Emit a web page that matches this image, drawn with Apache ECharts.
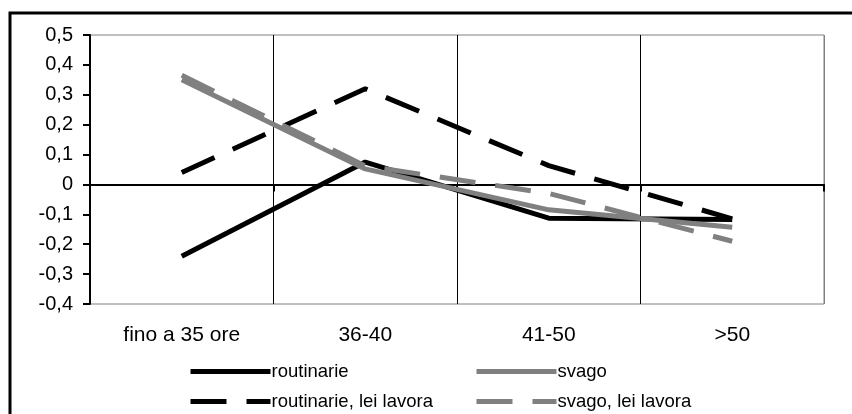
<!DOCTYPE html>
<html lang="it">
<head>
    <meta charset="UTF-8">
    <title>routinarie / svago</title>
    <script type="text/javascript" src="https://cdn.jsdelivr.net/npm/echarts@6/dist/echarts.min.js"></script>
    <style>
        html, body { margin: 0; padding: 0; background: #fff; }
    </style>
</head>
<body>
<div id="chart" style="width: 852px;height:414px;"></div>
<script>

    // categorie e valori
    var categories = ['fino a 35 ore', '36-40', '41-50', '>50'];
    var routinarie = [-0.24, 0.075, -0.113, -0.117];
    var svago = [0.35, 0.052, -0.085, -0.143];
    var routinarieLei = [0.04, 0.32, 0.063, -0.115];
    var svagoLei = [0.365, 0.062, -0.03, -0.19];

    var FONT = '"Liberation Sans", Arial, sans-serif';
    var DASH = [36, 20];

    function fmt(v) {
        if (Math.abs(v) < 1e-9) return '0';
        return v.toFixed(1).replace('.', ',');
    }

    function line(name, data, color, dashed) {
        return {
            name: name,
            type: 'line',
            data: data,
            symbol: 'none',
            silent: true,
            animation: false,
            lineStyle: {
                color: color,
                width: 5,
                type: dashed ? DASH : 'solid'
            },
            itemStyle: { color: color }
        };
    }

    // una legenda per voce, posizionata a mano
    function legend(name, left, top) {
        return {
            left: left,
            top: top,
            itemWidth: 80,
            itemHeight: 20,
            selectedMode: false,
            itemStyle: { opacity: 0 },
            lineStyle: { width: 5 },
            textStyle: { fontFamily: FONT, fontSize: 18.5, color: '#000', padding: [0, 0, 0, -4] },
            data: [name]
        };
    }

    var option = {
        animation: false,
        grid: {
            left: 90,
            right: 28,
            top: 35,
            bottom: 110,
            show: true,
            borderColor: '#808080',
            borderWidth: 1,
            backgroundColor: 'transparent'
        },
        graphic: [{
            type: 'rect',
            shape: { x: 10, y: 13, width: 900, height: 500 },
            style: { fill: null, stroke: '#000', lineWidth: 3 },
            silent: true
        }],
        legend: [
            legend('routinarie', 183, 357),
            legend('svago', 469, 357),
            legend('routinarie, lei lavora', 183, 387),
            legend('svago, lei lavora', 469, 387)
        ],
        xAxis: [{
            type: 'category',
            data: categories,
            position: 'bottom',
            axisLine: { show: false, onZero: false },
            axisTick: { show: false },
            axisLabel: { fontFamily: FONT, fontSize: 21, color: '#000', margin: 21 },
            splitLine: {
                show: true,
                lineStyle: { color: ['#000', '#000', '#000', '#000', '#808080'], width: 1 }
            }
        }, {
            type: 'category',
            data: categories,
            position: 'bottom',
            axisLine: { show: true, onZero: true, lineStyle: { color: '#000', width: 2 } },
            axisTick: { show: true, length: 7, lineStyle: { color: '#000', width: 2 } },
            axisLabel: { show: false },
            splitLine: { show: false }
        }],
        yAxis: {
            type: 'value',
            min: -0.4,
            max: 0.5,
            interval: 0.1,
            axisLine: { show: true, lineStyle: { color: '#000', width: 2 } },
            axisTick: { show: true, length: 7, lineStyle: { color: '#000', width: 2 } },
            axisLabel: { fontFamily: FONT, fontSize: 20, color: '#000', margin: 17, formatter: fmt },
            splitLine: { show: false }
        },
        series: [
            line('routinarie', routinarie, '#000', false),
            line('svago', svago, '#808080', false),
            line('routinarie, lei lavora', routinarieLei, '#000', true),
            line('svago, lei lavora', svagoLei, '#808080', true)
        ]
    };

    var myChart = echarts.init(document.getElementById('chart'));
    myChart.setOption(option);

</script>
</body>
</html>
